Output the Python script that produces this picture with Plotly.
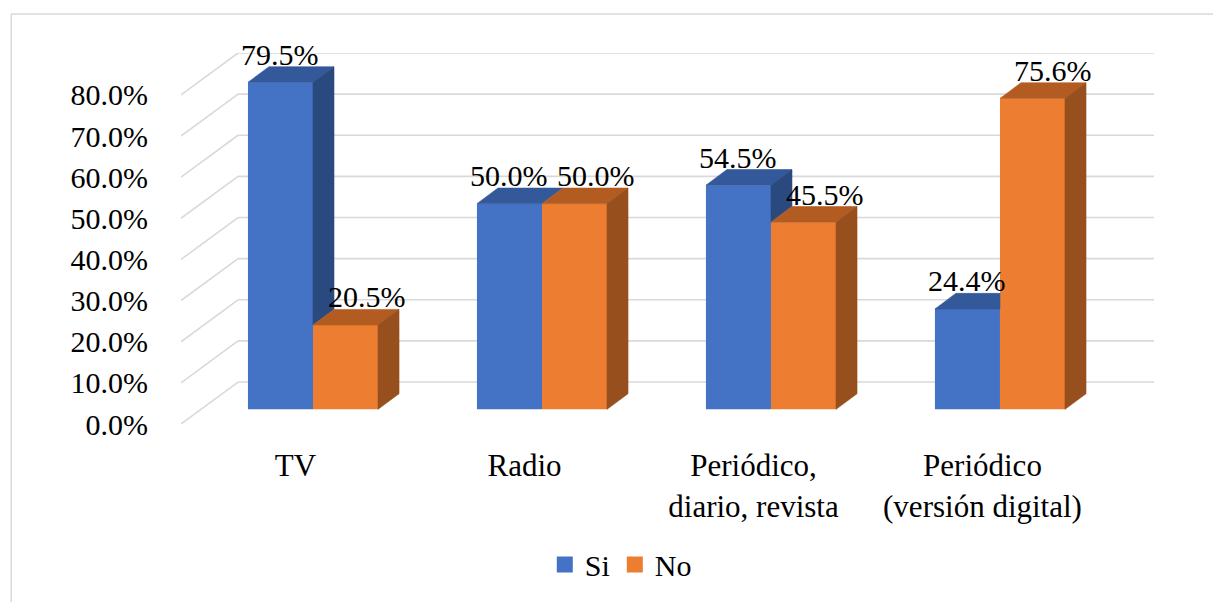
import plotly.graph_objects as go

# ---------------- data ----------------
categories = ["TV", "Radio", "Periódico,<br>diario, revista", "Periódico<br>(versión digital)"]
series_names = ["Si", "No"]
si_values = [79.5, 50.0, 54.5, 24.4]
no_values = [20.5, 50.0, 45.5, 75.6]
y_tick_values = [0, 10, 20, 30, 40, 50, 60, 70, 80]
y_tick_labels = ["0.0%", "10.0%", "20.0%", "30.0%", "40.0%", "50.0%", "60.0%", "70.0%", "80.0%"]

# ---------------- style / pseudo-3D geometry ----------------
FONT = "Liberation Serif, serif"
SI_FRONT, SI_TOP, SI_SIDE = "#4472C4", "#34599A", "#2A4A7F"
NO_FRONT, NO_TOP, NO_SIDE = "#ED7D31", "#B35C22", "#964F1D"
GRID = "#D9D9D9"

BAR_W = 0.284           # width of one bar (category units)
PLANE_DX, PLANE_DY = 0.0764, 3.56   # offset of the bar plane from the front plane
DEPTH_DX, DEPTH_DY = 0.0917, 3.8    # bar depth projection
WALL_DX, WALL_DY = 0.249, 10.2      # wall depth projection

n = len(categories)
xs = list(range(n))
x_min = -0.5
x_max = n - 0.5 + WALL_DX
y_max = max(y_tick_values) + WALL_DY

fig = go.Figure()

# front faces as real bars
for name, vals, color, off in [(series_names[0], si_values, SI_FRONT, -BAR_W),
                               (series_names[1], no_values, NO_FRONT, 0.0)]:
    fig.add_trace(go.Bar(
        name=name, x=[k + PLANE_DX for k in xs], y=vals, base=PLANE_DY,
        width=BAR_W, offset=off, marker=dict(color=color, line=dict(width=0)),
        hoverinfo="skip", showlegend=False, legendgroup=name,
    ))


def poly(px, py, color):
    fig.add_trace(go.Scatter(
        x=px + [px[0]], y=py + [py[0]], mode="lines", fill="toself",
        fillcolor=color, line=dict(color=color, width=0.6),
        showlegend=False, hoverinfo="skip",
    ))


annotations = []
for k, s, o in zip(xs, si_values, no_values):
    xc = k + PLANE_DX
    s0, e, r = xc - BAR_W, xc, xc + BAR_W     # Si left, shared edge, No right
    ts, to = PLANE_DY + s, PLANE_DY + o       # front tops
    # Si top face (clipped where the No bar stands in front of it)
    if o <= s:
        poly([s0, e, e + DEPTH_DX, s0 + DEPTH_DX], [ts, ts, ts + DEPTH_DY, ts + DEPTH_DY], SI_TOP)
    else:
        poly([s0, e, e, s0 + DEPTH_DX], [ts, ts, ts + DEPTH_DY, ts + DEPTH_DY], SI_TOP)
    # Si side face: only the part above the No bar is visible
    if s > o:
        poly([e, e, e + DEPTH_DX, e + DEPTH_DX], [to, ts, ts + DEPTH_DY, to + DEPTH_DY], SI_SIDE)
    # No top and side
    poly([e, r, r + DEPTH_DX, e + DEPTH_DX], [to, to, to + DEPTH_DY, to + DEPTH_DY], NO_TOP)
    poly([r, r + DEPTH_DX, r + DEPTH_DX, r], [PLANE_DY, PLANE_DY + DEPTH_DY, to + DEPTH_DY, to], NO_SIDE)
    # data labels
    annotations.append(dict(x=(s0 + e) / 2, y=ts + DEPTH_DY, text=f"{s:.1f}%", showarrow=False,
                            xref="x", yref="y", yanchor="bottom", yshift=-6,
                            font=dict(family=FONT, size=30, color="black")))
    annotations.append(dict(x=(e + r) / 2 + DEPTH_DX, y=to + DEPTH_DY, text=f"{o:.1f}%", showarrow=False,
                            xref="x", yref="y", yanchor="bottom", yshift=-6,
                            font=dict(family=FONT, size=30, color="black")))

# legend entries (square swatches)
for name, color in [(series_names[0], SI_FRONT), (series_names[1], NO_FRONT)]:
    fig.add_trace(go.Scatter(
        name=name, x=[None], y=[None], mode="markers", legendgroup=name,
        marker=dict(symbol="square", size=16, color=color, line=dict(width=0)),
        hoverinfo="skip", showlegend=True,
    ))

# walls: back-wall gridlines and left side-wall diagonals (below traces)
shapes = []
for v in y_tick_values:
    shapes.append(dict(type="line", xref="x", yref="y", layer="below",
                       x0=x_min, y0=v, x1=x_min + WALL_DX, y1=v + WALL_DY,
                       line=dict(color=GRID, width=1.6)))
    shapes.append(dict(type="line", xref="x", yref="y", layer="below",
                       x0=x_min + WALL_DX, y0=v + WALL_DY, x1=x_max, y1=v + WALL_DY,
                       line=dict(color=GRID, width=1.6)))
# chart-area border (only top and left edges fall inside the picture)
shapes.append(dict(type="line", xref="paper", yref="paper", layer="below",
                   x0=-0.1745, y0=1.105, x1=1.3, y1=1.105,
                   line=dict(color=GRID, width=1.5)))
shapes.append(dict(type="line", xref="paper", yref="paper", layer="below",
                   x0=-0.1745, y0=-0.7, x1=-0.1745, y1=1.105,
                   line=dict(color=GRID, width=1.5)))

fig.update_layout(
    width=1213, height=594,
    margin=dict(l=173, r=67, t=45, b=169, pad=0),
    paper_bgcolor="white", plot_bgcolor="white",
    barmode="overlay",
    showlegend=True,
    legend=dict(orientation="h", x=0.452, xanchor="center", y=-0.379, yanchor="middle",
                font=dict(family=FONT, size=30, color="black"), itemclick=False,
                itemwidth=30, tracegroupgap=0, traceorder="normal"),
    xaxis=dict(range=[x_min, x_max], tickvals=xs, ticktext=categories,
               showgrid=False, zeroline=False, showline=False,
               ticks="outside", ticklen=14, tickcolor="rgba(0,0,0,0)",
               tickfont=dict(family=FONT, size=31, color="black")),
    yaxis=dict(range=[0, y_max], tickvals=y_tick_values, ticktext=y_tick_labels,
               showgrid=False, zeroline=False, showline=False,
               ticks="outside", ticklen=26, tickcolor="rgba(0,0,0,0)",
               tickfont=dict(family=FONT, size=30, color="black")),
    shapes=shapes,
    annotations=annotations,
)

fig.write_html("out.html")
